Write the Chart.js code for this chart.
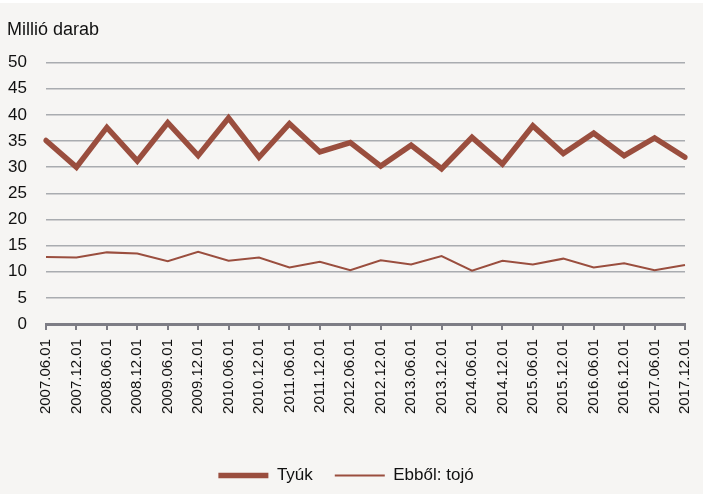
<!DOCTYPE html>
<html lang="hu">
<head>
  <meta charset="UTF-8">
  <title>Tyúk és tojó állomány</title>
  <script src="https://cdn.jsdelivr.net/npm/chart.js"></script>
  <style>
    html, body { margin: 0; padding: 0; background: #ffffff; overflow: hidden; }
    .wrap { width: 703px; height: 491px; margin-top: 3px; background: #f6f5f3; }
    canvas { display: block; }
  </style>
</head>
<body>
  <div class="wrap"><canvas id="chart" width="703" height="491"></canvas></div>
  <script>
    // Időpontok (x tengely)
    const dates = [
      '2007.06.01', '2007.12.01', '2008.06.01', '2008.12.01', '2009.06.01', '2009.12.01',
      '2010.06.01', '2010.12.01', '2011.06.01', '2011.12.01', '2012.06.01', '2012.12.01',
      '2013.06.01', '2013.12.01', '2014.06.01', '2014.12.01', '2015.06.01', '2015.12.01',
      '2016.06.01', '2016.12.01', '2017.06.01', '2017.12.01'
    ];
    // Millió darab
    const tyuk = [35.1, 30.0, 37.6, 31.2, 38.5, 32.2, 39.4, 31.9, 38.3, 32.9, 34.7,
                  30.2, 34.2, 29.7, 35.7, 30.6, 37.9, 32.6, 36.5, 32.2, 35.6, 31.9];
    const tojo = [12.8, 12.7, 13.7, 13.5, 12.0, 13.8, 12.1, 12.7, 10.8, 11.9, 10.3,
                  12.2, 11.4, 13.0, 10.2, 12.1, 11.4, 12.5, 10.8, 11.6, 10.3, 11.3];
    const yMin = 0, yMax = 50, yStep = 5;

    const lineColor = '#9a4e3e';
    const fontFamily = "'Liberation Sans Narrow', 'Arial Narrow', 'Liberation Sans', Arial, sans-serif";

    new Chart(document.getElementById('chart'), {
      type: 'line',
      data: {
        labels: dates,
        datasets: [
          {
            label: 'Tyúk',
            data: tyuk,
            borderColor: lineColor,
            backgroundColor: lineColor,
            borderWidth: 5.5,
            borderCapStyle: 'round',
            pointRadius: 0,
            tension: 0,
            pointStyle: 'line'
          },
          {
            label: 'Ebből: tojó',
            data: tojo,
            borderColor: lineColor,
            backgroundColor: lineColor,
            borderWidth: 2,
            borderCapStyle: 'butt',
            pointRadius: 0,
            tension: 0,
            pointStyle: 'line'
          }
        ]
      },
      options: {
        responsive: false,
        animation: false,
        layout: { padding: { left: 7, right: 18, top: 0, bottom: 0 } },
        plugins: {
          title: {
            display: true,
            text: 'Millió darab',
            align: 'start',
            color: '#111',
            font: { family: fontFamily, size: 18, weight: 'normal' },
            padding: { top: 16, bottom: 22 }
          },
          legend: {
            position: 'bottom',
            labels: {
              usePointStyle: true,
              pointStyleWidth: 50,
              color: '#111',
              padding: 22,
              font: { family: fontFamily, size: 17 }
            }
          },
          tooltip: { enabled: false }
        },
        scales: {
          x: {
            offset: false,
            afterFit: s => { s.height = 121; s.paddingLeft = 0; s.paddingRight = 0; },
            grid: { drawOnChartArea: false, drawTicks: true, tickLength: 6, color: '#7d7d85', lineWidth: 2 },
            border: { display: true, color: '#7d7d85', width: 3 },
            ticks: {
              autoSkip: false, minRotation: 90, maxRotation: 90, padding: 9,
              color: '#111', font: { family: fontFamily, size: 15 }
            }
          },
          y: {
            min: yMin, max: yMax,
            afterFit: s => { s.width = 39; },
            grid: { drawTicks: false, color: '#a9acb0', lineWidth: 1.5 },
            border: { display: false },
            ticks: {
              stepSize: yStep, padding: 19, autoSkip: false,
              color: '#111', font: { family: fontFamily, size: 17 }
            }
          }
        }
      }
    });
  </script>
</body>
</html>
